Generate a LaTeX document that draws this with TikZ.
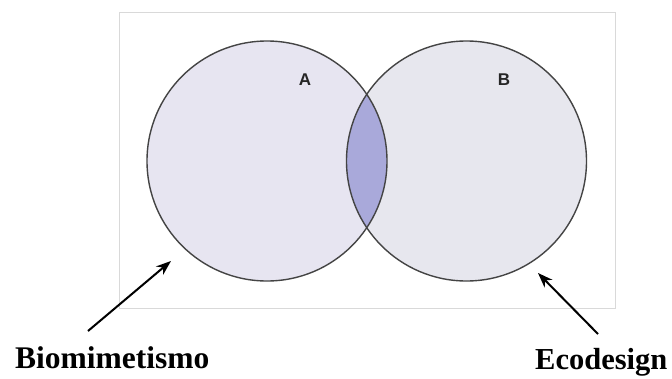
\documentclass[tikz,border=0pt]{standalone}
\usepackage{fontspec}
\setmainfont{Liberation Serif}
\newfontfamily\labelsans{Liberation Sans}
\usetikzlibrary{arrows.meta}
\definecolor{boxgray}{HTML}{D9D9D9}
\definecolor{leftfill}{HTML}{E7E5F1}
\definecolor{rightfill}{HTML}{E7E7EE}
\definecolor{midfill}{HTML}{A9A9DA}
\definecolor{ringgray}{HTML}{444444}
\tikzset{
  vcircle/.style={circle, draw=ringgray, line width=1.4pt, minimum size=240pt, inner sep=0pt, outer sep=0pt},
  setlabel/.style={font=\labelsans\bfseries\fontsize{17}{17}\selectfont, text=black!85, inner sep=0pt},
  caption/.style={font=\bfseries\fontsize{31.5}{31.5}\selectfont, inner sep=0pt},
  pointer/.style={-{Stealth[length=15pt,width=11pt]}, line width=2pt, black}
}
\begin{document}
\begin{tikzpicture}[x=1pt,y=-1pt]
\useasboundingbox (0,0) rectangle (672,378);
\fill[white] (0,0) rectangle (672,378);
\draw[boxgray, line width=1pt] (119,12) rectangle (615,308);
\fill[leftfill] (267,161) circle (120);
\fill[rightfill] (466.5,161) circle (120);
\begin{scope}
  \clip (267,161) circle (120);
  \fill[midfill] (466.5,161) circle (120);
\end{scope}
\node[vcircle] (cA) at (267,161) {};
\node[vcircle] (cB) at (466.5,161) {};
\node[setlabel] (lA) at (305,80) {A};
\node[setlabel] (lB) at (504,80) {B};
\node[caption, anchor=base west] (bio) at (15,368) {Biomimetismo};
\node[caption, anchor=base west, font=\bfseries\fontsize{30.5}{30.5}\selectfont] (eco) at (535,369) {Ecodesign};
\coordinate (tipA) at (171,261);
\coordinate (tipB) at (538,273);
\coordinate (tailA) at (88,331);
\coordinate (tailB) at (598,334);
\draw[pointer] (tailA) -- (tipA);
\draw[pointer] (tailB) -- (tipB);
\end{tikzpicture}
\end{document}
